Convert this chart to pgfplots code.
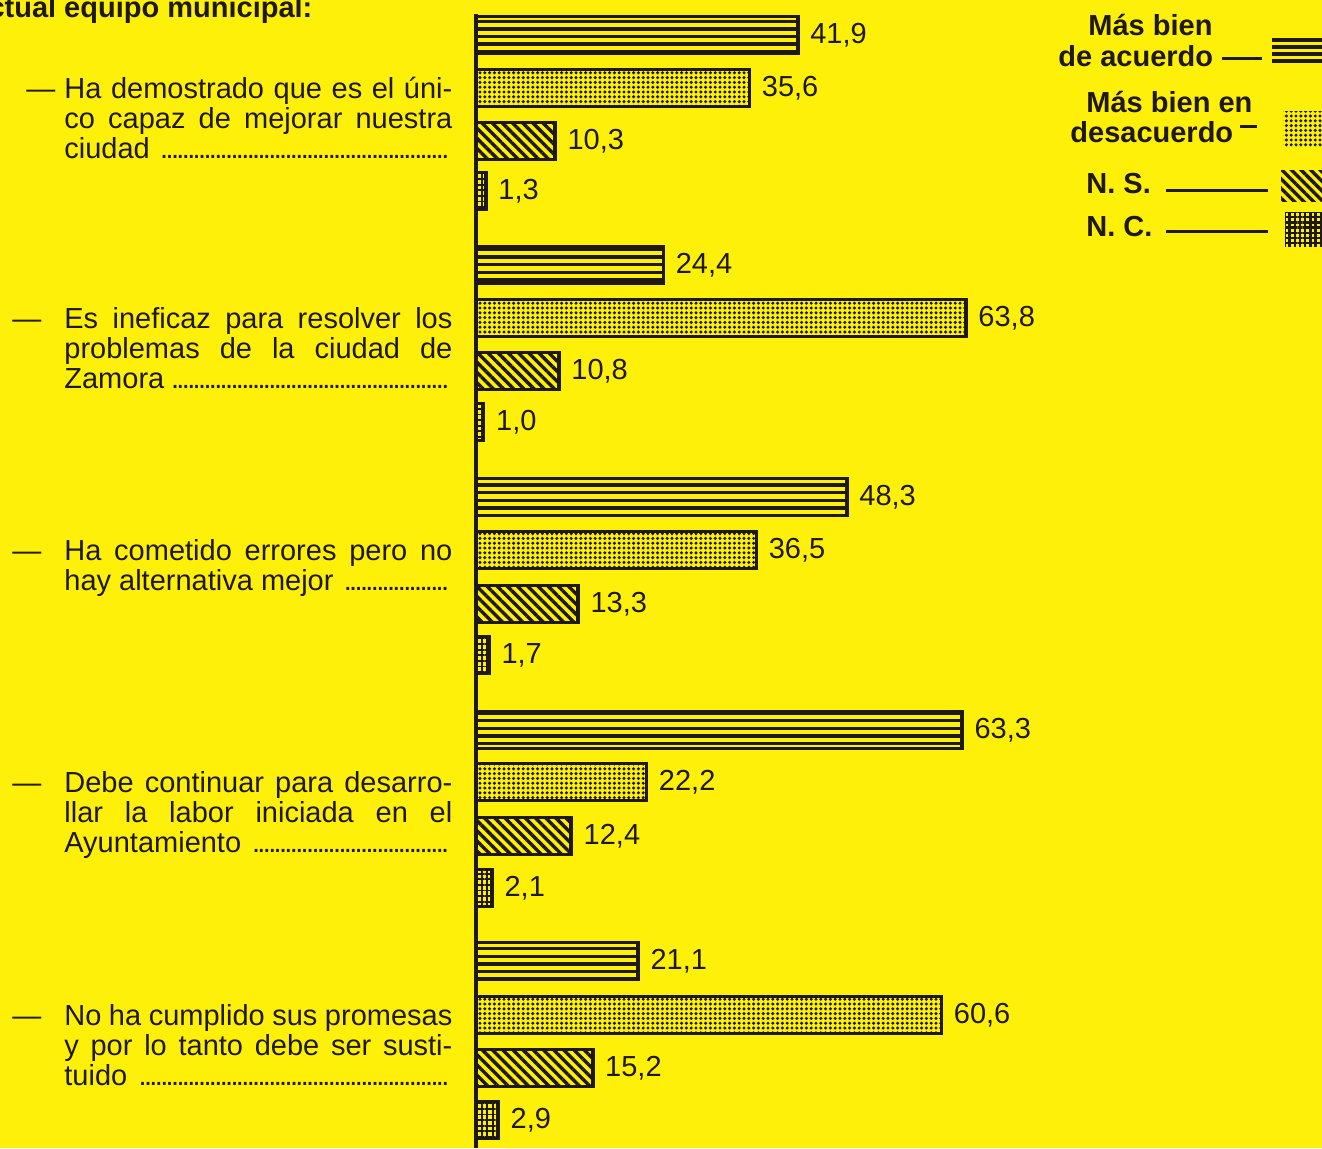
\documentclass[border=0pt]{standalone}
\usepackage{fontspec}
\setmainfont{Liberation Sans}
\usepackage{pgfplots}
\pgfplotsset{compat=1.18}
\usetikzlibrary{patterns,patterns.meta}
\pgfdeclarepatternformonly{hstripes}{\pgfqpoint{-2pt}{0pt}}{\pgfqpoint{702pt}{3.8pt}}{\pgfqpoint{700pt}{3.8pt}}{%
  \pgfpathrectangle{\pgfqpoint{-2pt}{0pt}}{\pgfqpoint{704pt}{1.75pt}}\pgfusepath{fill}}
\pgfdeclarepatternformonly{hstripesleg}{\pgfqpoint{-2pt}{0pt}}{\pgfqpoint{702pt}{3.5pt}}{\pgfqpoint{700pt}{3.5pt}}{%
  \pgfpathrectangle{\pgfqpoint{-2pt}{0pt}}{\pgfqpoint{704pt}{1.8pt}}\pgfusepath{fill}}
\definecolor{bg}{RGB}{255,240,10}
\definecolor{ink}{RGB}{30,25,20}
\newcommand\lead{\leaders\hbox to 2.7pt{\hss.\hss}\hfill}
\newcommand\lineJ[1]{\makebox[194pt][s]{#1}}
\newcommand\lineL[1]{\makebox[194pt][l]{#1\ \lead}}
\newcommand\txt{\fontsize{14.5}{15}\selectfont}
\begin{document}
\begin{tikzpicture}
\useasboundingbox (0,0) rectangle (661pt,-574pt);
\clip (0,0) rectangle (661pt,-574pt);
\fill[bg] (0,0) rectangle (661pt,-574pt);

\begin{axis}[at={(238pt,0pt)}, anchor=north west,
  x=3.84pt, y=0.5pt, xmin=0, xmax=110.16, ymin=-1148, ymax=0,
  hide axis, clip=false, xbar, bar width=18.5pt,
  every axis plot/.append style={draw=ink, line width=1.8pt, bar shift=0pt, pattern color=ink},
  point meta=x, nodes near coords,
  nodes near coords style={anchor=west, xshift=2pt, font=\txt, text=ink},
  /pgf/number format/fixed, /pgf/number format/fixed zerofill,
  /pgf/number format/precision=1, /pgf/number format/use comma,
  /pgf/number format/assume math mode=true]
\addplot[pattern=hstripes] coordinates {(41.9,-35) (24.4,-265) (48.3,-497) (63.3,-730) (21.1,-961)};
\addplot[pattern={Dots[radius=0.85pt,distance=2.4pt]}] coordinates {(35.6,-88) (63.8,-318) (36.5,-550) (22.2,-782) (60.6,-1015)};
\addplot[pattern={Lines[angle=-45,distance=3.6pt,line width=1.7pt]}] coordinates {(10.3,-141) (10.8,-371) (13.3,-604) (12.4,-836) (15.2,-1068)};
\addplot[pattern={Hatch[distance=2.8pt,line width=0.9pt]}] coordinates {(1.3,-191) (1.0,-422) (1.7,-655) (2.1,-888) (2.9,-1120)};
\draw[ink, line width=2pt] (axis cs:0,-14) -- (axis cs:0,-1148);
\end{axis}

\begin{scope}[x=0.5pt,y=-0.5pt, every node/.style={inner sep=0pt, text=ink, font=\txt}]
% title
\node[anchor=base west, font=\txt\bfseries] at (-28,17) {actual equipo municipal:};
% block 1
\node[anchor=base west] at (26,98) {---};
\node[anchor=base west] at (64,98) {\lineJ{Ha demostrado que es el úni-}};
\node[anchor=base west] at (64,128) {\lineJ{co capaz de mejorar nuestra}};
\node[anchor=base west] at (64,158) {\lineL{ciudad}};
% block 2
\node[anchor=base west] at (12,328) {---};
\node[anchor=base west] at (64,328) {\lineJ{Es ineficaz para resolver los}};
\node[anchor=base west] at (64,358) {\lineJ{problemas de la ciudad de}};
\node[anchor=base west] at (64,388) {\lineL{Zamora}};
% block 3
\node[anchor=base west] at (12,560) {---};
\node[anchor=base west] at (64,560) {\lineJ{Ha cometido errores pero no}};
\node[anchor=base west] at (64,590) {\lineL{hay alternativa mejor}};
% block 4
\node[anchor=base west] at (12,792) {---};
\node[anchor=base west] at (64,792) {\lineJ{Debe continuar para desarro-}};
\node[anchor=base west] at (64,822) {\lineJ{llar la labor iniciada en el}};
\node[anchor=base west] at (64,852) {\lineL{Ayuntamiento}};
% block 5
\node[anchor=base west] at (12,1025) {---};
\node[anchor=base west] at (64,1025) {\lineJ{No ha cumplido sus promesas}};
\node[anchor=base west] at (64,1055) {\lineJ{y por lo tanto debe ser susti-}};
\node[anchor=base west] at (64,1085) {\lineL{tuido}};
% legend
\node[anchor=base west, font=\txt\bfseries] at (1088,35) {Más bien};
\node[anchor=base west, font=\txt\bfseries] at (1058,66) {de acuerdo};
\node[anchor=base west, font=\txt\bfseries] at (1086,112) {Más bien en};
\node[anchor=base west, font=\txt\bfseries] at (1070,142) {desacuerdo};
\node[anchor=base west, font=\txt\bfseries] at (1086,193) {N. S.};
\node[anchor=base west, font=\txt\bfseries] at (1086,236) {N. C.};
\draw[ink, line width=1.5pt] (1222,58) -- (1262,58);
\draw[ink, line width=1.5pt] (1240,126) -- (1257,126);
\draw[ink, line width=1.5pt] (1166,190) -- (1268,190);
\draw[ink, line width=1.5pt] (1166,231) -- (1268,231);
\path[pattern=hstripesleg, pattern color=ink] (1272,38) rectangle (1330,64);
\path[pattern={Dots[radius=0.85pt,distance=2.4pt]}, pattern color=ink] (1283,111) rectangle (1330,147);
\path[pattern={Lines[angle=-45,distance=3.4pt,line width=1.7pt]}, pattern color=ink] (1281,170) rectangle (1330,201);
\path[pattern={Hatch[distance=2.6pt,line width=1.2pt]}, pattern color=ink] (1285,212) rectangle (1330,246);
\end{scope}
\end{tikzpicture}
\end{document}
